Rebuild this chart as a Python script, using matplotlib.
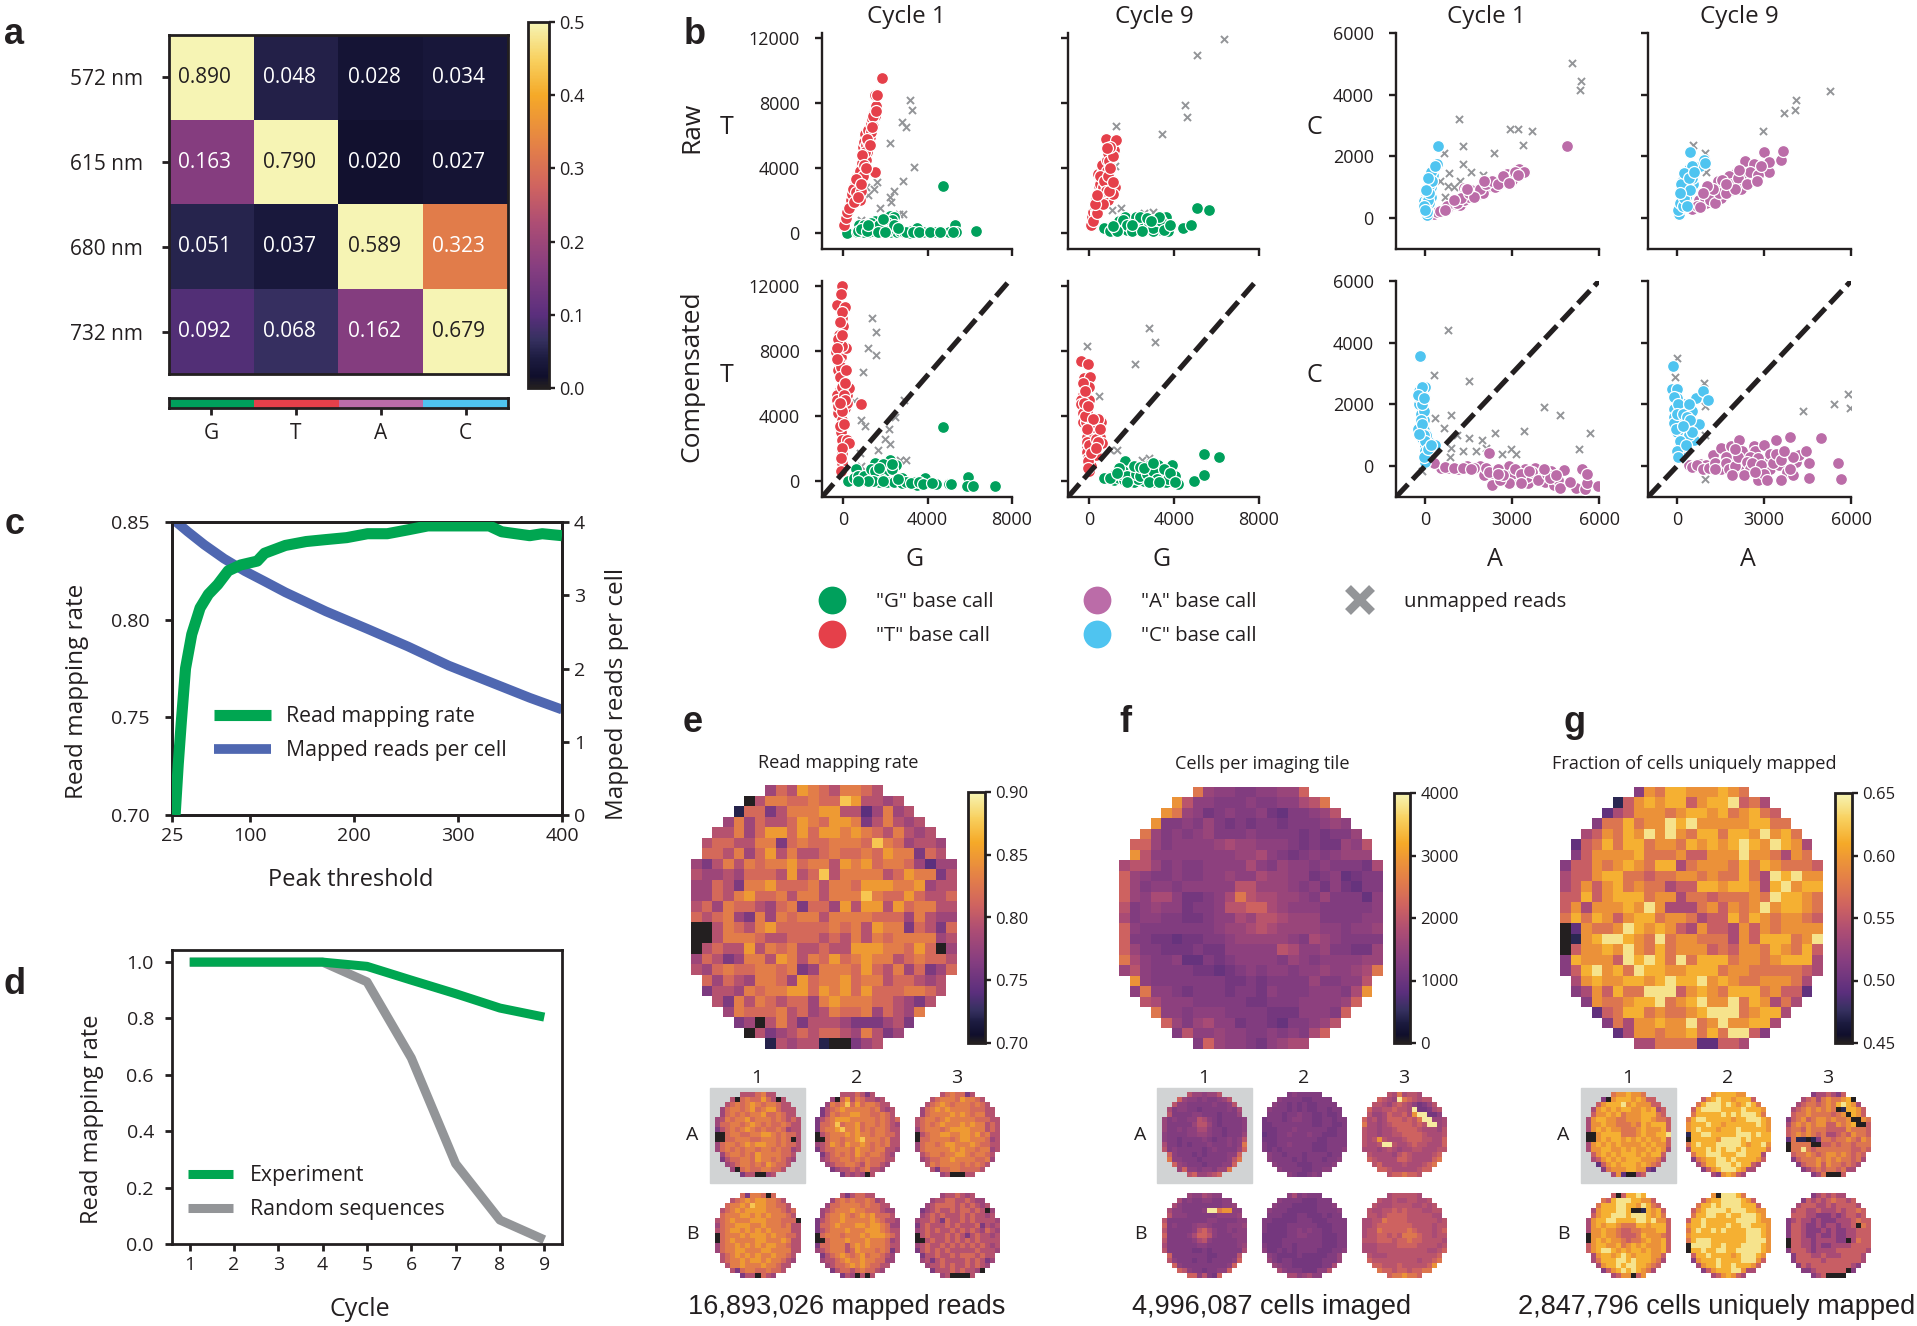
import numpy as np
import matplotlib
matplotlib.use('Agg')
import matplotlib.pyplot as plt
from matplotlib.colors import LinearSegmentedColormap
from matplotlib.lines import Line2D
from matplotlib.patches import Rectangle

plt.rcParams['font.family'] = ['Open Sans', 'DejaVu Sans']

W, H = 1917, 1326
INK = '#231f20'
GREEN, RED, PURPLE, CYAN, GREY = '#00a05c', '#e5404a', '#bb6ca8', '#4fc4f0', '#939598'
LINE_GREEN, LINE_BLUE = '#00a651', '#4f67b1'

# panel a
wavelengths = ['572 nm', '615 nm', '680 nm', '732 nm']
bases = ['G', 'T', 'A', 'C']
base_colors = [GREEN, RED, PURPLE, CYAN]
crosstalk = [[0.890, 0.048, 0.028, 0.034],
             [0.163, 0.790, 0.020, 0.027],
             [0.051, 0.037, 0.589, 0.323],
             [0.092, 0.068, 0.162, 0.679]]

# panel c
thresh_rate = [28, 31, 34, 38, 44, 52, 60, 69, 79, 91, 107, 114, 134, 154, 173, 193, 213, 232, 252, 271, 291, 311, 330, 342, 369, 381, 400]
mapping_rate = [.70, .726, .748, .775, .7925, .806, .813, .818, .825, .828, .830, .834, .838, .840, .841, .842, .844, .844, .846, .848, .848, .848, .848, .845, .843, .844, .843]
thresh_reads = [25, 40, 56, 75, 95, 114, 134, 173, 213, 252, 291, 330, 369, 400]
reads_per_cell = [4.05, 3.87, 3.69, 3.50, 3.33, 3.19, 3.04, 2.78, 2.54, 2.30, 2.04, 1.82, 1.60, 1.44]

# panel d
cycles = [1, 2, 3, 4, 5, 6, 7, 8, 9]
experiment = [1.0, 1.0, 1.0, 1.0, .985, .936, .888, .837, .805]
random_seq = [1.0, 1.0, 1.0, 1.0, .93, .66, .285, .085, .015]

# panel b, (x, y)
raw1_red = [(50,450),(150,900),(200,1300),(350,2000),(400,2400),(550,2950),(800,2000),(650,3500),(750,3600),(850,4000),(900,4300),(1000,4800),(950,5300),(1150,5000),(1050,6100),(1200,6300),(1300,6700),(1250,5900),(1450,7400),(1550,7800),(1500,8500),(1850,9500),(1500,7200),(1050,3700),(1500,3750),(1000,5600),(800,3400),(700,3000),(950,4000),(1100,4500),(1350,7000),(1600,8500),
    (300,1500),(450,2700),(500,1900),(600,2500),(750,3200),(850,2600),(700,2200),(1100,5400),(1200,5600),(1300,6200),(1400,6600),(1050,5000),(900,4800),(1150,5800),(1400,7200),(1550,7500),(1250,5400),(800,3800),(950,3500),(600,3300),(1000,4200),(850,3000),(1350,6500),(1100,4000)]
raw1_green = [(200,0),(650,50),(900,30),(1000,50),(1300,40),(1500,50),(1800,40),(2200,40),(2550,40),(3200,100),(3800,40),(4400,40),(5000,50),(5300,450),(5350,30),(6300,80),(4750,2850),(2200,1050),(2400,950),(1750,750),(1500,700),(1300,600),(750,450),(1100,300),(2000,700),(2300,800),(3500,300),(3100,0),(1400,100),(2100,600),(4300,50),(5200,60),
    (1000,450),(1300,350),(1600,300),(1900,100),(2100,100),(1700,500),(1900,850),(2400,500),(2700,100),(2900,60),(3000,40),(3300,30),(700,120),(850,250),(1150,100),(1650,60),(2000,60),(3600,60),(4100,40),(4600,50),(2600,300),(1200,500)]
raw1_grey = [(3150,8200),(3250,7550),(2800,6800),(3000,6500),(2200,5500),(3350,4050),(2850,3200),(1600,3100),(1450,2700),(2400,2600),(2250,1900),(1750,1500),(2850,1150),(2650,1150),(850,800),(2200,2200),(1100,2800),(1200,2300)]
raw9_red = [(100,450),(150,1000),(200,1300),(250,1600),(300,2000),(500,2500),(550,3200),(400,3600),(600,3700),(700,4000),(600,4200),(850,4500),(900,4900),(1150,5100),(800,5800),(1250,5700),(1050,2900),(1200,2800),(900,2000),(600,2200),(350,1700),(450,2900),(750,3500),(950,4400),(500,3000),(300,1200),(700,2300),(1000,3300),(1100,2400),
    (200,700),(350,1200),(400,2000),(450,2400),(650,2800),(800,3000),(850,3800),(500,3500),(700,3200),(900,3500),(1000,4000),(1100,4700),(1000,5300),(850,5200),(800,2600),(650,1800),(250,1800),(350,2300),(950,2600),(1100,3100)]
raw9_green = [(700,300),(1000,100),(1400,200),(1900,800),(1700,1000),(2300,800),(2650,850),(3000,800),(3600,1000),(3600,450),(2700,300),(3700,100),(2300,400),(4400,300),(4800,500),(5100,1500),(5650,1400),(3300,300),(1800,200),(2500,500),(2900,200),(2100,350),(3400,150),(3100,500),(1500,600),(3000,100),
    (1200,300),(1400,700),(1600,800),(1800,500),(2000,100),(2200,950),(2400,1000),(2800,600),(3000,300),(3200,800),(3400,700),(3500,200),(2500,100),(1300,100),(1100,400),(2700,900),(3300,1000),(3800,500),(2000,500),(2900,700)]
raw9_grey = [(6350,11900),(5100,10950),(4500,7850),(4600,7150),(3450,6100),(1250,6550),(1500,1500),(1050,1400),(1200,4100),(2600,1200),(3000,1300)]
comp1_red = [(-50,12000),(-300,10800),(-50,10000),(-20,9500),(-200,9000),(-100,8500),(-350,7900),(-100,7600),(-250,6800),(0,6100),(-150,5600),(-200,5200),(-100,5000),(-50,4600),(100,4500),(-250,4200),(-50,3750),(-100,3000),(-50,2500),(-50,1700),(-50,1100),(-100,600),(850,4700),(200,5300),(300,5700),(150,8200),(100,10700),(-300,5300),(200,2500),(-200,7300),(-50,8300),(200,4800),(300,2300),
    (-100,11500),(-50,10400),(-150,9800),(-250,8700),(-300,8200),(-100,7000),(-300,7500),(-150,6400),(-50,5800),(-300,5000),(-250,4600),(50,5300),(100,6000),(-50,4300),(-150,3400),(-50,2000),(-100,1400),(150,6800),(-50,9000),(100,5000),(50,3500),(-150,4800)]
comp1_green = [(250,0),(850,-30),(1000,0),(1100,-30),(900,100),(1700,-50),(2200,-50),(2600,-100),(3100,-130),(3500,-250),(3700,-100),(3900,150),(4400,-180),(5000,-200),(5100,-200),(5900,250),(5850,-300),(6150,-330),(7200,-300),(4750,3300),(1500,950),(1800,900),(2200,1250),(2500,950),(2000,600),(1200,350),(1500,1100),(1800,100),(600,700),(2800,200),(3300,-100),
    (500,200),(700,300),(1000,300),(1300,700),(1500,600),(1900,1050),(2300,700),(2100,-50),(2400,-80),(2800,-150),(3000,-100),(1400,-30),(1200,0),(700,0),(3200,-150),(3600,-50),(3800,-200),(4200,-150),(1700,800),(2300,1050),(2600,100),(1900,-20)]
comp1_grey = [(1350,10000),(1550,9150),(1200,8200),(1550,7750),(950,6700),(2900,5000),(2450,3950),(850,3750),(1050,3350),(2150,3200),(2000,2600),(2200,2250),(1650,1900),(3000,1250),(2700,1300),(800,1700),(850,900),(500,4900)]
comp9_red = [(-400,7400),(-50,7200),(-250,6300),(50,6400),(-300,5300),(-400,5000),(0,5800),(0,5000),(-100,4300),(-200,3900),(-50,3300),(0,3000),(-100,2700),(-100,2100),(-100,1800),(-50,1400),(-50,1000),(550,3600),(500,2700),(600,2300),(200,2000),(400,3800),(250,3100),(200,1500),(100,900),(0,600),(-200,4400),(150,2900),(300,1600),(-300,3600),
    (-300,6000),(-200,5500),(-400,4700),(-300,4200),(-150,3600),(-100,2400),(-50,1200),(0,2200),(100,3500),(200,3300),(300,2600),(400,2400),(500,3200),(-250,4800),(-200,4000),(-50,4600),(100,1700),(-50,800),(300,2000),(200,3800),(-100,3200)]
comp9_green = [(700,200),(1150,50),(1400,150),(1650,50),(1700,1200),(2000,700),(2500,650),(2850,950),(3250,950),(3900,1000),(3100,-50),(2600,0),(3900,300),(4050,300),(4200,-200),(4950,0),(5400,350),(5400,1650),(6100,1450),(2100,-70),(2000,200),(1500,400),(3400,400),(2300,100),(3600,-100),(2900,300),(1600,600),
    (1200,400),(1400,800),(1800,300),(2200,400),(2400,300),(2700,400),(3000,600),(3200,100),(3500,700),(3700,100),(2100,900),(2400,850),(1800,-50),(2800,-50),(3300,-100),(1000,200),(2600,800),(3000,1100),(3800,500),(4050,-50),(1300,500)]
comp9_grey = [(-100,8300),(2800,9400),(3100,8550),(2150,7200),(450,5200),(1300,1900),(1000,1900),(2800,1400),(2500,1300)]

raw1_cyan = [(70,100),(0,400),(70,350),(170,800),(200,1000),(270,1400),(280,1600),(420,1750),(460,2350),(100,1000),(30,700),(150,1200),(-30,550),(80,250),(60,600),(180,1300),(200,700),(150,500),
    (60,200),(30,450),(100,600),(130,800),(170,1100),(220,1500),(250,1200),(-50,400),(0,250),(40,900),(100,1300),(340,1700)]
raw1_purple = [(300,120),(650,300),(930,420),(1200,430),(1330,600),(1340,970),(1750,800),(1810,750),(2220,1050),(2600,1150),(2830,1430),(3240,1600),(3400,1500),(2400,1000),(2000,1000),(1500,700),(1000,450),(800,350),(3000,1250),(2900,1300),(1700,900),(4900,2350),(2000,800),(1400,950),
    (400,200),(500,230),(750,400),(1100,500),(1250,650),(1500,800),(1600,900),(1900,950),(2100,1100),(2300,1200),(2500,1100),(2700,1350),(2900,1150),(3100,1500),(3200,1400),(1000,600),(1700,700),(1450,950),(700,250),(2050,1200)]
raw1_grey2 = [(5080,5020),(5370,4450),(5350,4150),(1170,3220),(2920,2880),(3200,2880),(3680,2840),(1300,2340),(3380,2360),(660,2110),(2370,2110),(1300,1750),(1590,1500),(2000,1400),(820,1450),(800,1050),(700,700),(1200,1200),(1000,1000),(500,1200)]
raw9_cyan = [(60,150),(150,450),(300,700),(350,900),(220,1230),(400,1100),(450,1450),(550,1100),(430,1600),(450,2130),(800,1700),(920,1900),(970,1800),(200,800),(100,300),(300,1400),(500,1700),(150,1000),
    (50,250),(100,500),(200,400),(250,650),(300,1000),(150,1100),(250,1450),(450,900),(500,1300),(400,1300),(600,1500),(100,800),(350,400)]
raw9_purple = [(600,350),(850,450),(750,600),(1000,500),(1230,700),(1530,650),(1370,900),(1850,900),(2200,1150),(2600,1250),(2050,1450),(2320,1600),(2360,1850),(2640,1550),(2650,1750),(3000,2150),(3170,1500),(3170,1820),(3600,1900),(3650,2190),(1100,800),(1600,1000),(2000,1200),(2350,1400),(1400,1200),(1800,1350),
    (500,300),(700,400),(950,650),(1150,600),(1300,500),(1450,800),(1700,800),(1900,1100),(2100,1300),(2200,950),(2400,1100),(2500,1500),(2800,1400),(2900,1700),(1250,950),(1550,1250),(1050,1050),(800,350),(2000,950),(1700,1100),(2750,1200),(2150,1550),(900,800)]
raw9_grey2 = [(5280,4120),(4080,3500),(4110,3830),(3700,3410),(2960,2840),(560,2370),(950,2100),(1000,1500)]
comp1_cyan = [(-180,3580),(0,2550),(-200,2450),(-150,2400),(-100,2100),(-150,1700),(-50,1500),(-40,1170),(-250,1200),(0,650),(0,500),(0,150),(-200,2000),(-100,900),(350,700),(100,800),(-100,2300),(50,1000),(-50,1800),
    (-100,2550),(-200,2250),(-100,2000),(-150,1500),(-100,1350),(-50,1000),(0,800),(50,350),(-50,300),(-200,1050),(100,550),(200,700),(-250,2300),(-50,2200)]
comp1_purple = [(550,-70),(800,-70),(1150,-100),(1450,0),(1900,0),(2050,-300),(2400,-350),(2700,-120),(2900,0),(3200,-420),(3450,-100),(3550,-550),(3800,-50),(3850,-300),(4150,-500),(4350,-150),(4450,-620),(4600,-450),(4650,-700),(4800,-130),(5200,-700),(5500,-750),(5600,-550),(5400,-100),(5600,-250),(5950,-650),(2200,420),(2300,-600),(2800,-400),(3000,-250),(4000,-300),(1700,-50),(2900,-550),(3500,-350),
    (300,100),(700,-30),(1000,-60),(1300,-50),(1600,-100),(2100,-50),(2200,-200),(2500,-100),(2600,-450),(2700,-300),(3100,-100),(3300,-250),(3700,-200),(3900,-450),(4200,-250),(4300,-400),(4100,-100),(3300,-550),(2500,-250),(4500,-300),(5000,-500),(3600,-150)]
comp1_grey2 = [(800,4400),(320,2950),(1500,2750),(350,1550),(880,1650),(640,1250),(4100,1930),(4650,1650),(5680,1080),(5300,550),(3420,1150),(2430,1070),(1970,850),(1500,900),(1300,500),(1750,500),(2650,400),(2950,550),(3150,400),(900,600),(850,300),(-100,-150),(2100,600),(1100,1000)]
comp9_cyan = [(-150,3230),(-180,2500),(0,2500),(250,2020),(-100,1840),(-100,1600),(500,1800),(550,1400),(250,1200),(350,1200),(100,1000),(300,900),(100,650),(600,850),(750,1350),(650,2200),(900,2450),(1080,2130),(200,500),(300,1500),(0,2200),(100,1400),(200,800),
    (-100,2250),(50,2000),(-100,1400),(0,1700),(200,1700),(350,1600),(400,1000),(500,1100),(0,1100),(100,800),(150,300),(0,500),(450,1500),(-50,1200),(200,1300),(300,700),(50,300),(400,2000)]
comp9_purple = [(400,50),(600,0),(800,70),(1000,50),(1250,350),(1400,50),(1500,600),(1600,-50),(1850,650),(1900,250),(2150,850),(2250,0),(2250,500),(2250,-200),(2650,650),(2700,500),(2800,-450),(3000,700),(3100,200),(3200,-100),(3400,850),(3500,50),(3900,950),(3800,-200),(4100,150),(4200,350),(4450,500),(4550,100),(4550,-400),(4950,900),(5550,100),(5650,-430),(2500,300),(3600,-450),(2300,-100),(1700,300),(2800,250),(3200,400),(4000,-300),
    (500,-20),(700,50),(900,-100),(1100,-50),(1300,100),(1500,-100),(1700,100),(1800,-100),(2000,0),(2100,300),(2400,150),(2500,-100),(2600,100),(2900,50),(3000,-250),(3300,100),(3400,400),(3600,200),(3900,-100),(4000,300),(2000,550),(2300,-300),(3100,-450),(2700,-200),(1900,-300),(3700,500),(1300,-100)]
comp9_grey2 = [(0,3520),(-60,2880),(930,2680),(950,1950),(4330,1790),(5400,2000),(5880,2340),(5950,1880),(950,-430),(950,1000),(600,1100)]

# wafer maps: one character per imaging tile, an index into the *_levels list
e_levels = [.70, .72, .74, .76, .78, .795, .815, .83, .85, .875]
f_levels = [950, 1100, 1250, 1400, 1550, 1750, 1950, 2200, 2500, 2900, 3900]
g_levels = [.45, .472, .494, .516, .538, .556, .574, .594, .614, .64]

e_big = ["46587657765","057766766985545","16635777885524745","4746556876887357545","557468868688787657545","56655773676677769764554","66574685755676676877365",
"4357576778677587867764244","5445466658569577775687735","4465377866675776888778455","4465786675775777976686556","5647665467366485885867755","6567437476775777766647544",
"0057657866666767587736536","0057776556665657576777745","0565585767556558887768604","4653477587576867877567665","5467667767347776865746346",
"64654776486778677566545","35547677886878686667765","537576566478777665435","4766675645766746547","34057535554333453","053456566547534","15455100345"]
f_big = ["84332233447","963322232233568","98431232231022346","9223242121221222343","842323422232222121224","77423333454433321211436","96333333334453212323444",
"5664232233335324332322215","7432232233433544331230122","7423323333366444323131022","7435531123586554432422203","6234331223667754333222223","5233221123354665444222233",
"7322222223445654444332334","7221101122344444325432222","7422111211333336533422114","8532230021233332432333344","4632222110123233233433458",
"93222222211212222422336","38332122212213222333259","653332222211222333347","8332333222211133327","74245331221022346","263343322323257","27433213455"]
g_big = ["37688777876","157878857889564","24577767887867865","3668677989777778866","457687979768868879786","25686886776878789879874","35777786667557779776476",
"3557678768846777686876665","4557886656677676686498977","4575786766455887887489788","5585788867746656667698876","5747778797444675767978876","6868757886776455868767765",
"0276679878754755475767777","0178998769677666475888679","0577879768677756577687685","3877759898696888677678884","3589786988778886776666654",
"47877887898897876677764","34758669995787688867552","376678896789779687464","2568867667899967884","36477877967977884","247767786869953","44666622554"]

e_a1 = ["5556755","50676686505","5676787677655","467767867886555","467676778667655","45767786777676565","46677678767667655","35676787676676455","00677667788767665","00667776677767605","46776787887767665","46767677677676645","467767687777665","356677687767654","4567767687665","40676677665","3550045"]
e_a2 = ["5556535","40685765545","4767968677655","356787777767545","357677887766765","35678887777767656","36679677867767654","36778977867677655","05677787877677665","00677677897776755","45687687787676755","35667776877677554","356767687677654","456677676766655","4566776576654","34556567554","3545405"]
e_a3 = ["5676635","56777687765","5678767776765","467878777766655","467777878767755","56776787777766655","56767877787877565","46777678888777565","05677887788786755","06677776788777645","46776788777876655","46777778787767745","567767788767765","456677877776674","5767777676765","53667766665","4500055"]
e_b1 = ["6377606","56787887765","6778798877665","567878888777656","677788787877765","56787778887776660","46778887787776755","56788787878777755","06777878887877665","06787777887778755","46778787878877655","46778877788777755","567878787787765","567787887877654","5778777877655","53677667665","3550654"]
e_b2 = ["5356655","46767667645","4667777676655","456777877666544","467787678786665","35677877777876554","36678777887887644","35677787778887655","06777677787888765","00677787778777645","36677757878777655","45677756877767635","356787678677654","455678778776644","4566787876655","35665676654","3540505"]
e_b3 = ["4556545","45566556544","4566665656545","345655656656504","456565556565545","45565365565655554","35655565655563545","45656556565654654","05655565653565545","00565565656565555","45655656565656545","35656565555565554","355655656665655","453565555656534","4556565565654","35556565540","4500005"]

f_a1 = ["6443446","74332322346","6332222232236","523322122222325","622223322212224","42322336532122223","42222246642122223","42232335532212223","32222334432212224","32212222321223236","52212122232223238","62322222123222247","732221212222337","833222122222368","7432221222337","47332332448","6744567"]
f_a2 = ["2322222","32222112222","3221212112222","322212121122122","222122322112112","12221233221122122","11222222221122112","11122232222221122","01122322232211122","11122222222112222","21122322221112222","21212222221112223","322122212222122","322221212221223","3222211122223","32222112233","3211232"]
f_a3 = ["6585665","7654a876566","6654676531246","755667665a11256","6445766759aa113","756457776768aa445","8554567777676aa45","65545567777655546","65545566777765556","65696555677766557","6556aa65567665557","55545654556655566","655554676555567","765555776555578","6755556555678","77655555677","6778776"]
f_b1 = ["4335433","52322332233","5322222222334","53322223aa89933","633322222233334","62222222233222233","72322234432223334","62222236753223233","72222357763222333","62222235632222233","52222223322222234","62222211212222225","722222221122226","632221221222237","7322222222237","76322122337","7736217"]
f_b2 = ["3523222","32222111222","3222111112223","322211111122223","222111221112122","22111112221112222","21111222222111222","21111223232211222","11111223322211122","11112222222211122","21112212222211122","31121212222111223","321111211111224","421221111112224","4322111111225","53222111336","5534533"]
f_b3 = ["5666665","65565566556","6555666655656","655667676665566","665677776666655","55668777766666656","55677777776666566","56687777787666567","56677676888766566","66677767787766665","55566667777666656","55566666666665567","655566666666667","766666666656678","7766676666679","87767767788","7889887"]

g_a1 = ["6778776","30788878755","5788897877755","478787887787845","577878677788865","47887766777887665","47787766676878885","47878776667877785","00788886667877889","00787887878787785","47878787777878775","47788778787787874","578787888787885","457878788877764","2578788878765","36777887732","4720045"]
g_a2 = ["7888877","57898878885","6899989878986","589999888898887","688888989899986","68998888878899987","78889887888888987","78988878889888887","18899888889998988","08888879999898888","68988899999878897","48889898998988886","688999888998884","367889989888875","4688999898854","35789998744","4378754"]
g_a3 = ["3445435","45646766780","4566567689874","456767676018875","566766665670875","35675677676670076","46767677557678005","56657666555576665","56767656445657665","26110136656676576","06666005565665666","06696566666665565","566765677676565","356667676766564","3566757665654","34565665644","3460005"]
g_b1 = ["5058898","65899988775","6888998879865","478889980018785","578899989998786","47889988889989775","47878876668878885","47787765566777885","07787765556877765","07878776566787785","57887786787877785","57899878788787785","478878987888775","468889989888764","4788989988765","35789898764","4577057"]
g_b2 = ["7099986","57889999875","6889899998885","578999989998877","688998898899987","58898888889999877","78898888988998887","68988989888899987","78888888888899987","68999888888899997","09999889888999987","08898899889999987","588988887899987","378889888899975","4788988988875","35788899744","4578754"]
g_b3 = ["3454544","35454565545","4555445455554","455445444545565","555443334345545","34544343334445655","35543343443445065","35543334343344555","35543343343344555","05544344443304655","05544343344445555","35554344445555554","355544544455554","355555455555554","3545555555543","33455555503","3450000"]

cmap = LinearSegmentedColormap.from_list('print_inferno', [
    (0.0, '#231f20'), (0.03, '#100f2c'), (0.08, '#1c1b40'), (0.13, '#35305f'), (0.2, '#5b2f7d'),
    (0.33, '#873e80'), (0.45, '#ad4d74'), (0.55, '#cf6360'), (0.65, '#e27d4a'), (0.8, '#f5a928'),
    (0.9, '#f8d160'), (1.0, '#f6f4b4')])
cmap.set_bad((1, 1, 1, 0))

fig = plt.figure(figsize=(W / 100, H / 100), dpi=100, facecolor='white')


def ax_px(x0, y0, x1, y1):
    return fig.add_axes([x0 / W, 1 - y1 / H, (x1 - x0) / W, (y1 - y0) / H])


def label(x, y, s, size=16, **kw):
    kw.setdefault('ha', 'center')
    kw.setdefault('va', 'center')
    kw.setdefault('color', INK)
    fig.text(x / W, 1 - y / H, s, fontsize=size, **kw)


def decode(rows, levels):
    n = len(rows)
    grid = np.full((n, n), np.nan)
    for i, row in enumerate(rows):
        off = (n - len(row)) // 2
        for j, c in enumerate(row):
            grid[i, off + j] = levels[int(c, 16)]
    return grid


def style_spines(ax, sides=('left', 'bottom'), lw=1.7):
    for k, s in ax.spines.items():
        s.set_visible(k in sides)
        s.set_linewidth(lw)
        s.set_color(INK)
    ax.tick_params(width=lw, length=5, color=INK, labelcolor=INK)


# panel a
ax = ax_px(169, 35, 508, 374)
im = ax.imshow(crosstalk, cmap=cmap, vmin=0, vmax=0.5, aspect='auto')
for i, row in enumerate(crosstalk):
    for j, v in enumerate(row):
        c = INK if v > 0.5 else 'white'
        ax.text(j - 0.08, i + 0.0, '%.3f' % v, ha='center', va='center', color=c, fontsize=15)
ax.set_xticks([])
ax.set_yticks(range(4), wavelengths, fontsize=15)
style_spines(ax, ('left', 'right', 'top', 'bottom'), 2)
ax.tick_params(axis='y', pad=14)

cax = ax_px(528, 22, 549, 388)
cb = fig.colorbar(im, cax=cax, ticks=[0, .1, .2, .3, .4, .5])
cb.ax.tick_params(labelsize=13, width=1.7, length=4, color=INK, labelcolor=INK)
cb.outline.set_linewidth(2)
cb.outline.set_edgecolor(INK)

ax = ax_px(169, 398, 508, 408)
ax.bar(range(4), 1, width=1, color=base_colors)
ax.set_xlim(-0.5, 3.5)
ax.set_ylim(0, 1)
ax.set_yticks([])
ax.set_xticks(range(4), bases, fontsize=15)
style_spines(ax, ('left', 'right', 'top', 'bottom'), 2)
ax.tick_params(axis='x', pad=6)

# panel b
panels_left = [
    (822, 33, 1012, 249, raw1_grey, raw1_green, raw1_red, True, False, False),
    (1068, 33, 1259, 249, raw9_grey, raw9_green, raw9_red, False, False, False),
    (822, 281, 1012, 497, comp1_grey, comp1_green, comp1_red, True, True, True),
    (1068, 281, 1259, 497, comp9_grey, comp9_green, comp9_red, False, True, True),
]
panels_right = [
    (1396, 33, 1599, 249, raw1_grey2, raw1_purple, raw1_cyan, True, False, False),
    (1648, 33, 1851, 249, raw9_grey2, raw9_purple, raw9_cyan, False, False, False),
    (1396, 281, 1599, 497, comp1_grey2, comp1_purple, comp1_cyan, True, True, True),
    (1648, 281, 1851, 497, comp9_grey2, comp9_purple, comp9_cyan, False, True, True),
]


def draw_scatter(box, c1, c2, xlim, ylim, xt, yt, line_y):
    x0, y0, x1, y1, grey, pts1, pts2, show_y, show_x, diag = box
    ax = ax_px(x0, y0, x1, y1)
    ax.scatter(*zip(*grey), marker='x', s=26, linewidths=1.4, color=GREY, zorder=2)
    ax.scatter(*zip(*pts1), s=74, color=c1, edgecolors='white', linewidths=0.9, zorder=3)
    ax.scatter(*zip(*pts2), s=74, color=c2, edgecolors='white', linewidths=0.9, zorder=4)
    if diag:
        ax.plot(xlim, line_y, color=INK, lw=3.7, linestyle=(0, (3.4, 1.3)), zorder=5)
    ax.set_xlim(xlim)
    ax.set_ylim(ylim)
    ax.set_xticks(xt)
    ax.set_yticks(yt)
    if not show_y:
        ax.set_yticklabels([])
    if not show_x:
        ax.set_xticklabels([])
    style_spines(ax)
    ax.tick_params(labelsize=13, pad=5)
    ax.tick_params(axis='y', pad=11)


for box in panels_left:
    draw_scatter(box, GREEN, RED, (-1000, 8000), (-1000, 12300), [0, 4000, 8000], [0, 4000, 8000, 12000], (-1000, 12500))
for box in panels_right:
    draw_scatter(box, PURPLE, CYAN, (-1000, 6000), (-1000, 6000), [0, 3000, 6000], [0, 2000, 4000, 6000], (-1000, 6000))

for x, s in [(906, 'Cycle 1'), (1154, 'Cycle 9'), (1486, 'Cycle 1'), (1739, 'Cycle 9')]:
    label(x, 17, s, 17.4)
for x, s in [(915, 'G'), (1162, 'G'), (1495, 'A'), (1748, 'A')]:
    label(x, 559, s, 18)
for y in [128, 376]:
    label(727, y, 'T', 18)
    label(1314, y, 'C', 18)
label(692, 127, 'Raw', 19, rotation=90)
label(692, 376, 'Compensated', 19, rotation=90)


def dot(c):
    return Line2D([], [], linestyle='none', marker='o', ms=20, color=c, mew=0)


leg_kw = dict(frameon=False, fontsize=14.7, borderpad=0, borderaxespad=0, handlelength=2,
              handletextpad=1.15, labelspacing=0.68, loc='upper left', labelcolor=INK)
fig.legend([dot(GREEN), dot(RED)], ['"G" base call', '"T" base call'], bbox_to_anchor=(812 / W, 1 - 592 / H), **leg_kw)
fig.legend([dot(PURPLE), dot(CYAN)], ['"A" base call', '"C" base call'], bbox_to_anchor=(1077 / W, 1 - 592 / H), **leg_kw)
cross = Line2D([], [], linestyle='none', marker='x', ms=17, mew=6, color=GREY)
fig.legend([cross], ['unmapped reads'], bbox_to_anchor=(1340 / W, 1 - 592 / H), **leg_kw)

# panel c
ax = ax_px(172, 522, 562, 815)
l1, = ax.plot(thresh_rate, mapping_rate, color=LINE_GREEN, lw=8, solid_capstyle='butt', zorder=3)
ax.set_xlim(25, 400)
ax.set_ylim(0.70, 0.85)
ax.set_xticks([25, 100, 200, 300, 400])
ax.set_yticks([.70, .75, .80, .85], ['0.70', '0.75', '0.80', '0.85'])
style_spines(ax, ('left', 'right', 'top', 'bottom'), 2)
ax.tick_params(labelsize=14)
ax.tick_params(axis='y', pad=11)
ax2 = ax.twinx()
l2, = ax2.plot(thresh_reads, reads_per_cell, color=LINE_BLUE, lw=7, solid_capstyle='butt', zorder=2)
ax2.set_ylim(0, 4)
ax2.set_yticks([0, 1, 2, 3, 4])
style_spines(ax2, ('left', 'right', 'top', 'bottom'), 2)
ax2.tick_params(labelsize=14)
ax.set_zorder(ax2.get_zorder() + 1)
ax.patch.set_visible(False)
line_leg = dict(frameon=False, fontsize=15.3, borderpad=0, borderaxespad=0, handlelength=2.7,
                handletextpad=0.7, labelspacing=0.62, loc='upper left', labelcolor=INK)
ax.legend([l1, l2], ['Read mapping rate', 'Mapped reads per cell'], bbox_to_anchor=(42 / 390, 109 / 293), **line_leg)
label(77, 691, 'Read mapping rate', 17.5, rotation=90)
label(617, 694, 'Mapped reads per cell', 17.5, rotation=90)
label(351, 880, 'Peak threshold', 17)

# panel d
ax = ax_px(172, 950, 562, 1244)
l1, = ax.plot(cycles, experiment, color=LINE_GREEN, lw=6.5, solid_capstyle='butt', zorder=3)
l2, = ax.plot(cycles, random_seq, color=GREY, lw=6.5, solid_capstyle='butt', zorder=2)
ax.set_xlim(0.6, 9.4)
ax.set_ylim(0, 1.043)
ax.set_xticks(cycles)
ax.set_yticks([0, .2, .4, .6, .8, 1.0])
style_spines(ax, ('left', 'right', 'top', 'bottom'), 2)
ax.tick_params(labelsize=14)
ax.tick_params(axis='y', pad=8)
ax.legend([l1, l2], ['Experiment', 'Random sequences'], bbox_to_anchor=(16 / 390, 79 / 294),
          **{**line_leg, 'handlelength': 2.1, 'handletextpad': 0.8})
label(92, 1119, 'Read mapping rate', 17, rotation=90)
label(360, 1309, 'Cycle', 18)


# panels e, f, g
def wafer(x0, y0, x1, y1, rows, levels, vmin, vmax):
    ax = ax_px(x0, y0, x1, y1)
    im = ax.imshow(decode(rows, levels), cmap=cmap, vmin=vmin, vmax=vmax, aspect='auto', interpolation='nearest')
    ax.axis('off')
    return im


def wafer_colorbar(im, x0, y0, x1, y1, ticks, fmt):
    cax = ax_px(x0, y0, x1, y1)
    cb = fig.colorbar(im, cax=cax, ticks=ticks, format=fmt)
    cb.ax.tick_params(labelsize=12, width=1.7, length=4, color=INK, labelcolor=INK)
    cb.outline.set_linewidth(2)
    cb.outline.set_edgecolor(INK)


im = wafer(691, 785, 956, 1049, e_big, e_levels, .70, .90)
wafer_colorbar(im, 968, 792, 985, 1043, [.70, .75, .80, .85, .90], '%.2f')
im = wafer(1119, 787, 1382, 1049, f_big, f_levels, 0, 4000)
wafer_colorbar(im, 1394, 793, 1410, 1043, [0, 1000, 2000, 3000, 4000], '%d')
im = wafer(1560, 787, 1823, 1049, g_big, g_levels, .45, .65)
wafer_colorbar(im, 1835, 793, 1852, 1043, [.45, .50, .55, .60, .65], '%.2f')

label(838, 763, 'Read mapping rate', 13.1)
label(1262, 764, 'Cells per imaging tile', 13.1)
label(1694, 764, 'Fraction of cells uniquely mapped', 13.1)

small_sets = [
    (715, 692, e_levels, .70, .90, [[e_a1, e_a2, e_a3], [e_b1, e_b2, e_b3]], 847, '16,893,026 mapped reads'),
    (1162, 1140, f_levels, 0, 4000, [[f_a1, f_a2, f_a3], [f_b1, f_b2, f_b3]], 1272, '4,996,087 cells imaged'),
    (1586, 1563, g_levels, .45, .65, [[g_a1, g_a2, g_a3], [g_b1, g_b2, g_b3]], 1717, '2,847,796 cells uniquely mapped'),
]
for x_start, x_row, levels, vmin, vmax, grids, x_cap, caption in small_sets:
    fig.add_artist(Rectangle(((x_start - 5) / W, 1 - 1183 / H), 95 / W, 95 / H, color='#d1d3d4',
                             transform=fig.transFigure, zorder=0))
    for r, y in enumerate([1092, 1193]):
        for c in range(3):
            x = x_start + c * 100
            wafer(x, y, x + 85, y + 85, grids[r][c], levels, vmin, vmax)
    for c in range(3):
        label(x_start + 42 + c * 100, 1078, str(c + 1), 14)
    label(x_row, 1135, 'A', 14)
    label(x_row, 1234, 'B', 14)
    label(x_cap, 1307, caption, 19.5, family='Liberation Sans')

for x, y, s in [(14, 35, 'a'), (695, 34, 'b'), (15, 525, 'c'), (15, 985, 'd'), (693, 723, 'e'), (1125, 723, 'f'), (1575, 723, 'g')]:
    label(x, y, s, 26, fontweight='bold', family='Liberation Sans')

fig.savefig('out.png', dpi=100)
